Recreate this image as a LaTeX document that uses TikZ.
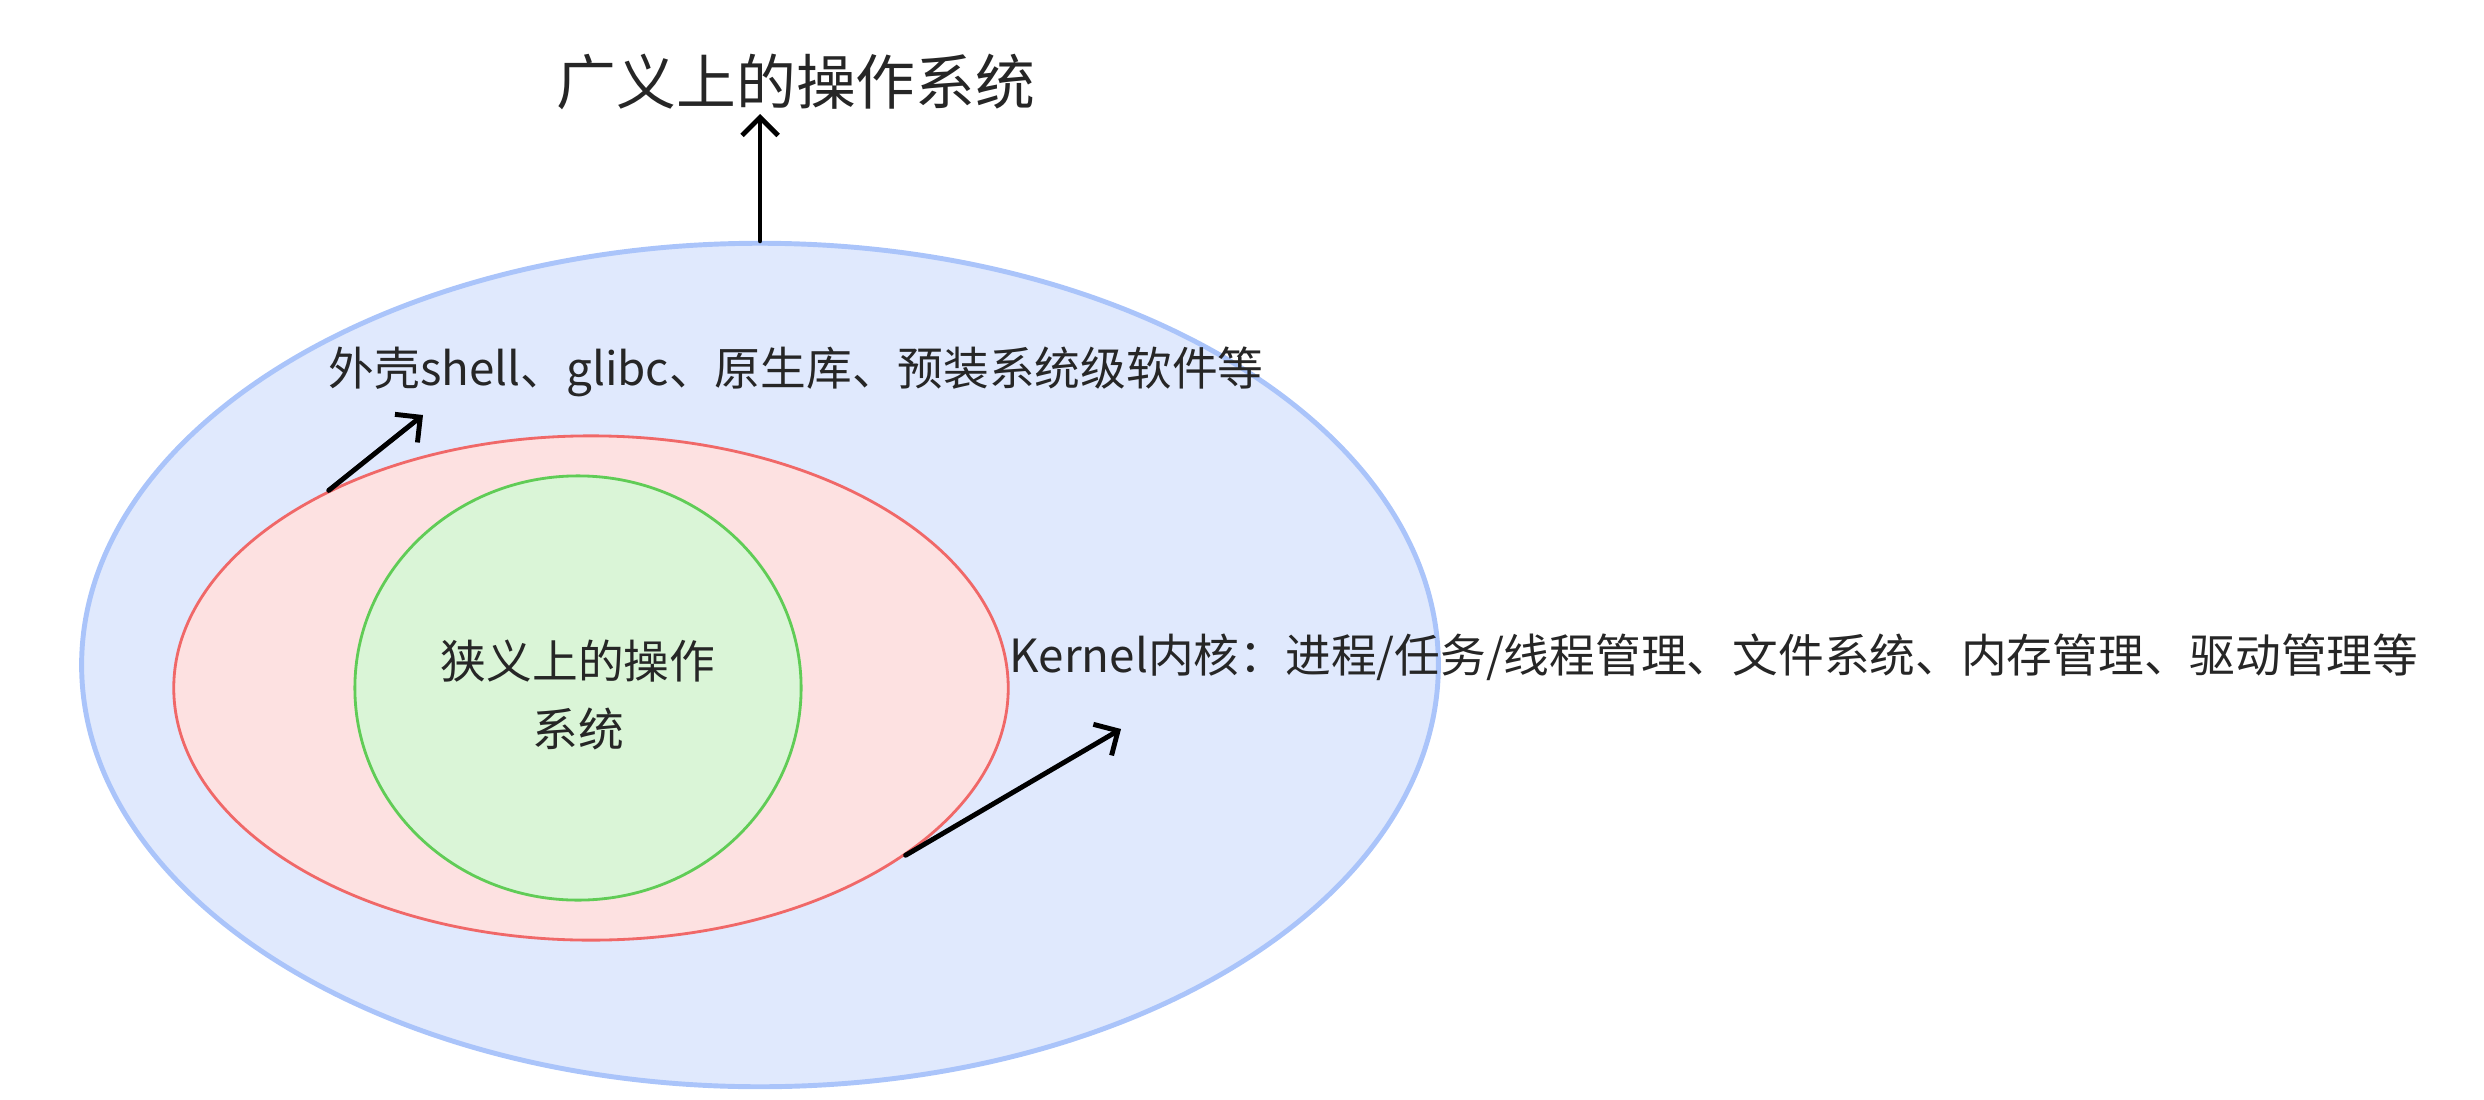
\documentclass[tikz,border=0pt]{standalone}
\usepackage{fontspec}
\setmainfont{Noto Sans CJK SC}
\definecolor{outerblue}{RGB}{224,233,253}
\definecolor{outerline}{RGB}{170,196,250}
\definecolor{midred}{RGB}{253,225,225}
\definecolor{midline}{RGB}{240,104,104}
\definecolor{innergreen}{RGB}{218,245,215}
\definecolor{innerline}{RGB}{96,204,86}
\usetikzlibrary{arrows.meta, positioning, shapes.geometric}

\begin{document}
\begin{tikzpicture}[
  x=0.01cm, y=-0.01cm,
  ring/.style={ellipse, inner sep=0pt},
  lbl/.style={font=\fontsize{13}{19.4}\selectfont, text=black!85, inner sep=0pt},
  arr/.style={-{Straight Barb[length=1.8mm, width=3.6mm]}, line width=1.4pt, line cap=round}
]
\useasboundingbox (0,0) rectangle (2484,1100);
\node[ring, draw=outerline, line width=1.4pt, fill=outerblue,
      minimum width=13.56cm, minimum height=8.43cm] (os) at (760,665) {};
\node[ring, draw=midline, line width=0.8pt, fill=midred,
      minimum width=8.34cm, minimum height=5.04cm] (kernel) at (591,688) {};
\node[ring, draw=innerline, line width=0.8pt, fill=innergreen,
      minimum width=4.46cm, minimum height=4.24cm] (core) at (578,688) {};
\node[lbl, align=center] (narrow) at (578,695) {狭义上的操作\\系统};
\node[lbl, font=\fontsize{17}{20}\selectfont] (broad) at (796,82) {广义上的操作系统};
\node[lbl, anchor=west] (shell) at (328,372) {外壳shell、glibc、原生库、预装系统级软件等};
\node[lbl, anchor=west] (kern) at (1009,657) {Kernel内核：进程/任务/线程管理、文件系统、内存管理、驱动管理等};
\coordinate (broadtip) at (760,114);
\coordinate (shelltip) at (423,415);
\coordinate (kerntip) at (1121,729);
\draw[arr] (os.north) -- (broadtip);
\draw[arr] (kernel.143.7) -- (shelltip);
\draw[arr] (kernel.-28.4) -- (kerntip);
\end{tikzpicture}
\end{document}
